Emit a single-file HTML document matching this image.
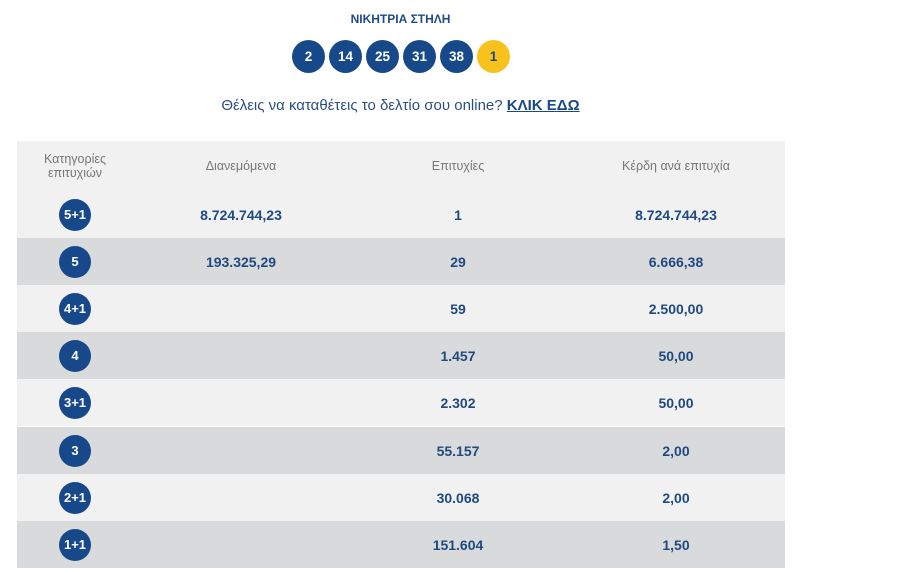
<!DOCTYPE html>
<html><head><meta charset="utf-8"><style>
body{margin:0;width:900px;height:573px;background:#fff;font-family:"Liberation Sans","DejaVu Sans",sans-serif;position:relative;overflow:hidden}
.a{position:absolute}
.t{left:0;width:801px;text-align:center;top:12px;font-size:12px;font-weight:bold;color:#1f4a8a}
.ball{position:absolute;top:40px;width:33px;height:33px;border-radius:50%;background:#17498a;color:#fff;font-weight:bold;font-size:13.5px;line-height:33px;text-align:center}
.y{background:#f7c21b;color:#17498a}
.q{left:0;width:801px;text-align:center;top:97px;font-size:15px;color:#2b4f80}
.q b{text-decoration:underline;color:#17498a}
.row{position:absolute;left:17px;width:768px;height:47px}
.c{position:absolute;top:0;height:100%;display:flex;align-items:center;justify-content:center;text-align:center;font-weight:bold;font-size:14px;color:#1f4a80}
.h .c{font-weight:normal;color:#777;font-size:12.5px}
.c1{left:0;width:116px}.c2{left:116px;width:216px}.c3{left:332px;width:218px}.c4{left:550px;width:218px}
.cir{width:32px;height:32px;border-radius:50%;background:#17498a;color:#fff;font-size:13px;line-height:32px;text-align:center;font-weight:bold}
.l{background:#f1f1f2}.d{background:#d9dadc}
</style></head><body>
<div class="a t">ΝΙΚΗΤΡΙΑ ΣΤΗΛΗ</div>
<div class="ball" style="left:292px">2</div>
<div class="ball" style="left:329px">14</div>
<div class="ball" style="left:366px">25</div>
<div class="ball" style="left:403px">31</div>
<div class="ball" style="left:440px">38</div>
<div class="ball y" style="left:477px">1</div>
<div class="a q">Θέλεις να καταθέτεις το δελτίο σου online? <b>ΚΛΙΚ ΕΔΩ</b></div>
<div class="row h l" style="top:141px;height:50px"><div class="c c1">Κατηγορίες<br>επιτυχιών</div><div class="c c2">Διανεμόμενα</div><div class="c c3">Επιτυχίες</div><div class="c c4">Κέρδη ανά επιτυχία</div></div>
<div class="row l" style="top:191px"><div class="c c1"><div class="cir">5+1</div></div><div class="c c2">8.724.744,23</div><div class="c c3">1</div><div class="c c4">8.724.744,23</div></div>
<div class="row d" style="top:238px"><div class="c c1"><div class="cir">5</div></div><div class="c c2">193.325,29</div><div class="c c3">29</div><div class="c c4">6.666,38</div></div>
<div class="row l" style="top:285px"><div class="c c1"><div class="cir">4+1</div></div><div class="c c2"></div><div class="c c3">59</div><div class="c c4">2.500,00</div></div>
<div class="row d" style="top:332px"><div class="c c1"><div class="cir">4</div></div><div class="c c2"></div><div class="c c3">1.457</div><div class="c c4">50,00</div></div>
<div class="row l" style="top:379px"><div class="c c1"><div class="cir">3+1</div></div><div class="c c2"></div><div class="c c3">2.302</div><div class="c c4">50,00</div></div>
<div class="row d" style="top:427px"><div class="c c1"><div class="cir">3</div></div><div class="c c2"></div><div class="c c3">55.157</div><div class="c c4">2,00</div></div>
<div class="row l" style="top:474px"><div class="c c1"><div class="cir">2+1</div></div><div class="c c2"></div><div class="c c3">30.068</div><div class="c c4">2,00</div></div>
<div class="row d" style="top:521px"><div class="c c1"><div class="cir">1+1</div></div><div class="c c2"></div><div class="c c3">151.604</div><div class="c c4">1,50</div></div>
</body></html>
